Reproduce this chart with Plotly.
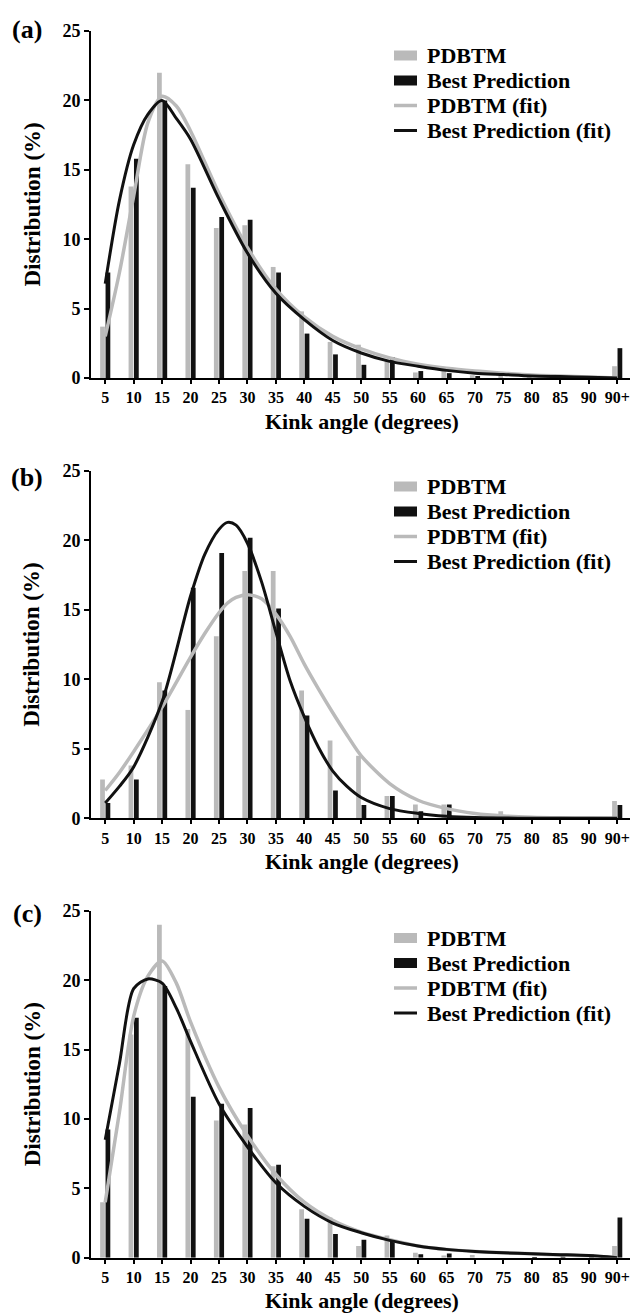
import plotly.graph_objects as go

categories = ["5", "10", "15", "20", "25", "30", "35", "40", "45", "50",
              "55", "60", "65", "70", "75", "80", "85", "90", "90+"]

# ---- Panel (a) ----
a_pdbtm = [3.7, 13.8, 22.0, 15.4, 10.8, 11.0, 8.0, 4.8, 2.6, 2.4,
           1.3, 0.4, 0.5, 0.2, 0.1, 0.05, 0.0, 0.0, 0.85]
a_best = [7.6, 15.8, 20.0, 13.7, 11.6, 11.4, 7.6, 3.2, 1.7, 0.95,
          1.5, 0.5, 0.35, 0.1, 0.0, 0.0, 0.0, 0.0, 2.15]
a_fit_pos = [0, 0.5, 1, 1.5, 2, 2.5, 3, 4, 5, 6, 7, 8, 9, 10, 11, 12, 13, 14, 15, 16, 17, 18]
a_pdbtm_fit = [3.0, 7.6, 13.1, 18.4, 20.3, 19.6, 17.8, 13.3, 9.4, 6.4, 4.4, 3.0,
               2.1, 1.45, 1.0, 0.7, 0.5, 0.35, 0.22, 0.14, 0.07, 0.0]
a_best_fit = [6.8, 12.8, 16.8, 19.0, 20.0, 18.7, 17.2, 12.9, 9.0, 6.1, 4.2, 2.7,
              1.8, 1.2, 0.85, 0.55, 0.35, 0.25, 0.15, 0.1, 0.05, 0.0]

# ---- Panel (b) ----
b_pdbtm = [2.8, 3.8, 9.8, 7.8, 13.1, 17.8, 17.8, 9.2, 5.6, 4.5,
           1.6, 1.0, 1.0, 0.0, 0.5, 0.0, 0.0, 0.0, 1.25]
b_best = [1.1, 2.8, 9.2, 16.6, 19.1, 20.2, 15.1, 7.4, 2.0, 0.95,
          1.6, 0.5, 1.0, 0.0, 0.0, 0.0, 0.0, 0.0, 0.95]
b_fit_pos = [0, 0.5, 1, 2, 3, 3.5, 4, 4.3, 4.6, 5, 5.5, 6, 6.5, 7, 7.5, 8, 8.5, 9,
             10, 11, 12, 13, 14, 15, 16, 17, 18]
b_pdbtm_fit = [2.0, 3.3, 4.8, 8.0, 11.6, 13.3, 14.8, 15.5, 15.9, 16.1, 15.8, 14.7, 13.1,
               11.1, 9.3, 7.6, 6.0, 4.5, 2.5, 1.3, 0.7, 0.35, 0.17, 0.08, 0.04, 0.02, 0.0]
b_best_fit = [1.1, 2.3, 3.7, 8.4, 16.0, 19.0, 20.8, 21.3, 21.1, 19.8, 17.0, 13.4, 9.9,
              7.3, 5.1, 3.4, 2.3, 1.5, 0.7, 0.35, 0.15, 0.05, 0.02, 0.0, 0.0, 0.0, 0.0]

# ---- Panel (c) ----
c_pdbtm = [4.0, 16.1, 24.0, 16.5, 9.9, 9.6, 6.6, 3.5, 2.9, 0.85,
           1.6, 0.35, 0.15, 0.2, 0.0, 0.0, 0.0, 0.0, 0.85]
c_best = [9.25, 17.3, 19.6, 11.6, 11.1, 10.8, 6.7, 2.8, 1.7, 1.3,
          1.3, 0.25, 0.3, 0.0, 0.0, 0.05, 0.25, 0.25, 2.9]
c_fit_pos = [0, 0.5, 1, 1.5, 2, 2.5, 3, 4, 5, 6, 7, 8, 9, 10, 11, 12, 13, 14, 15, 16, 17, 18]
c_pdbtm_fit = [4.0, 10.5, 17.4, 20.3, 21.4, 19.8, 17.0, 12.3, 8.8, 6.0, 4.0, 2.7,
               1.85, 1.3, 0.85, 0.6, 0.45, 0.35, 0.28, 0.2, 0.14, 0.0]
c_best_fit = [8.5, 14.0, 19.4, 20.1, 19.8, 18.0, 15.6, 11.1, 8.0, 5.4, 3.7, 2.5,
              1.8, 1.25, 0.85, 0.6, 0.45, 0.35, 0.28, 0.22, 0.15, 0.0]

panel_labels = ["(a)", "(b)", "(c)"]
series_names = ["PDBTM", "Best Prediction", "PDBTM (fit)", "Best Prediction (fit)"]
x_title = "Kink angle (degrees)"
y_title = "Distribution (%)"
y_ticks = [0, 5, 10, 15, 20, 25]

GRAY = "#bababa"
BLACK = "#111111"
FONT = "Liberation Serif"
W, H = 630, 1314

panels = [
    (a_pdbtm, a_best, a_fit_pos, a_pdbtm_fit, a_best_fit),
    (b_pdbtm, b_best, b_fit_pos, b_pdbtm_fit, b_best_fit),
    (c_pdbtm, c_best, c_fit_pos, c_pdbtm_fit, c_best_fit),
]
# pixel geometry of each panel (y of value 25, y of value 0)
geom = [(31, 378), (471, 818.3), (911, 1257.7)]
legend_row0 = [55.5, 486.5, 938]
label_y = [30, 477, 913]
X0 = 91


def px(x):
    return x / W


def py(y):
    return 1 - y / H


def bold(size):
    return dict(family=FONT, size=size, color="black", weight="bold")


xpos = list(range(len(categories)))
fig = go.Figure()
layout = {}
shapes = []
for i, (pd_vals, bp_vals, fpos, pd_fit, bp_fit) in enumerate(panels):
    n = "" if i == 0 else str(i + 1)
    xa, ya = "x" + n, "y" + n
    fig.add_trace(go.Bar(x=xpos, y=pd_vals, name=series_names[0], marker_color=GRAY,
                         marker_line_width=0, xaxis=xa, yaxis=ya, offsetgroup="p"))
    fig.add_trace(go.Bar(x=xpos, y=bp_vals, name=series_names[1], marker_color=BLACK,
                         marker_line_width=0, xaxis=xa, yaxis=ya, offsetgroup="b"))
    fig.add_trace(go.Scatter(x=fpos, y=pd_fit, name=series_names[2], mode="lines",
                             line=dict(color=GRAY, width=3.5, shape="spline", smoothing=0.8),
                             xaxis=xa, yaxis=ya))
    fig.add_trace(go.Scatter(x=fpos, y=bp_fit, name=series_names[3], mode="lines",
                             line=dict(color=BLACK, width=3, shape="spline", smoothing=0.8),
                             xaxis=xa, yaxis=ya))
    top, bot = geom[i]
    layout["xaxis" + n] = dict(
        domain=[px(X0), 1.0], range=[-0.5, 18.45], anchor=ya, automargin=False,
        tickmode="array", tickvals=xpos, ticktext=categories,
        showline=True, linecolor="black", linewidth=2,
        ticks="outside", ticklen=4, tickwidth=1.5, tickcolor="black",
        showgrid=False, zeroline=False, tickfont=bold(16),
    )
    layout["yaxis" + n] = dict(
        domain=[py(bot), py(top)], range=[0, 25], anchor=xa, automargin=False,
        tickvals=y_ticks, showline=True, linecolor="black", linewidth=2,
        ticks="outside", ticklen=5, tickwidth=2, tickcolor="black",
        showgrid=False, zeroline=False, tickfont=bold(18),
    )
    # axis titles
    fig.add_annotation(text=x_title, xref="paper", yref="paper",
                       x=px(362), y=py(bot + 43), xanchor="center", yanchor="middle",
                       showarrow=False, font=bold(22))
    fig.add_annotation(text=y_title, xref="paper", yref="paper", textangle=-90,
                       x=px(32), y=py((top + bot) / 2), xanchor="center", yanchor="middle",
                       showarrow=False, font=bold(23))
    # panel label
    fig.add_annotation(text=panel_labels[i], xref="paper", yref="paper",
                       x=px(27), y=py(label_y[i]), xanchor="center", yanchor="middle",
                       showarrow=False, font=bold(26))
    # legend (glyphs + names)
    for k, name in enumerate(series_names):
        yc = legend_row0[i] + 25 * k
        col = GRAY if k % 2 == 0 else BLACK
        if k < 2:
            shapes.append(dict(type="rect", xref="paper", yref="paper",
                               x0=px(394), x1=px(417), y0=py(yc + 5), y1=py(yc - 5),
                               fillcolor=col, line_width=0))
        else:
            shapes.append(dict(type="line", xref="paper", yref="paper",
                               x0=px(394), x1=px(417), y0=py(yc), y1=py(yc),
                               line=dict(color=col, width=3.5 if k == 2 else 3)))
        fig.add_annotation(text=name, xref="paper", yref="paper",
                           x=px(425), y=py(yc), xanchor="left", yanchor="middle",
                           showarrow=False, font=bold(22))

fig.update_layout(
    width=W, height=H, margin=dict(l=0, r=0, t=0, b=0, autoexpand=False),
    paper_bgcolor="white", plot_bgcolor="white",
    barmode="group", bargap=0.62, bargroupgap=0.12,
    showlegend=False, shapes=shapes, **layout,
)
fig.write_html("out.html", config={"displayModeBar": False},
               post_script="document.body.style.margin='0';")
